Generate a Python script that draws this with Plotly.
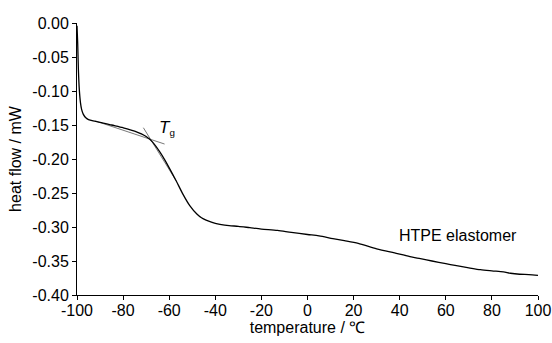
import plotly.graph_objects as go

# DSC curve of HTPE elastomer
temperature = [-100, -99.7, -99.4, -99.0, -98.5, -98.0, -97.3, -96.3, -95, -93, -90, -85, -80,
               -75, -70, -67, -64, -62, -60, -57, -54, -51, -48, -46, -44, -42, -40, -38, -34,
               -30, -25, -20, -13, -7, 0, 5, 11, 16, 22, 30, 39, 45, 49, 54, 60, 64, 70, 75, 80,
               85, 88, 92, 96, 100]
heat_flow = [-0.004, -0.03, -0.068, -0.098, -0.117, -0.127, -0.134, -0.139, -0.142, -0.144,
             -0.146, -0.150, -0.154, -0.159, -0.167, -0.176, -0.190, -0.201, -0.213, -0.232,
             -0.252, -0.269, -0.281, -0.2865, -0.290, -0.2925, -0.2945, -0.296, -0.298,
             -0.299, -0.301, -0.303, -0.305, -0.308, -0.311, -0.313, -0.317, -0.320, -0.324,
             -0.332, -0.339, -0.344, -0.3466, -0.350, -0.354, -0.3565, -0.360, -0.3628,
             -0.3645, -0.366, -0.368, -0.3695, -0.370, -0.371]

# Tangent construction lines for Tg
tangent1_x = [-92, -62]
tangent1_y = [-0.1441, -0.1780]
tangent2_x = [-71.2, -57]
tangent2_y = [-0.1540, -0.2320]

x_ticks = [-100, -80, -60, -40, -20, 0, 20, 40, 60, 80, 100]
x_tick_labels = ["-100", "-80", "-60", "-40", "-20", "0", "20", "40", "60", "80", "100"]
y_ticks = [0.00, -0.05, -0.10, -0.15, -0.20, -0.25, -0.30, -0.35, -0.40]
y_tick_labels = ["0.00", "-0.05", "-0.10", "-0.15", "-0.20", "-0.25", "-0.30", "-0.35", "-0.40"]

FONT = "Liberation Sans, Arial, sans-serif"

fig = go.Figure()
fig.add_trace(go.Scatter(x=tangent1_x, y=tangent1_y, mode="lines",
                         line=dict(color="#555555", width=0.8), showlegend=False))
fig.add_trace(go.Scatter(x=tangent2_x, y=tangent2_y, mode="lines",
                         line=dict(color="#555555", width=0.8), showlegend=False))
fig.add_trace(go.Scatter(x=temperature, y=heat_flow, mode="lines",
                         line=dict(color="black", width=1.3, shape="spline", smoothing=0.8),
                         showlegend=False))

fig.add_annotation(x=-61.0, y=-0.154, text="<i>T</i><span style='font-size:14px'><sub>g</sub></span>",
                   showarrow=False, font=dict(family=FONT, size=17, color="black"))
fig.add_annotation(x=65.4, y=-0.313, text="HTPE elastomer", showarrow=False,
                   font=dict(family=FONT, size=16, color="black"))

fig.update_layout(
    width=552, height=343,
    margin=dict(l=77, r=14, t=23, b=48, autoexpand=False),
    paper_bgcolor="white", plot_bgcolor="white",
    font=dict(family=FONT, size=16, color="black"),
    xaxis=dict(range=[-100, 100], tickvals=x_ticks, ticktext=x_tick_labels,
               ticks="outside", ticklen=4, ticklabelstandoff=-3, automargin=False,
               tickcolor="black", showline=True, linecolor="black", linewidth=1,
               showgrid=False, zeroline=False,
               title=dict(text="temperature / ℃", standoff=0, font=dict(size=16))),
    yaxis=dict(range=[-0.40, 0.0], tickvals=y_ticks, ticktext=y_tick_labels,
               ticks="outside", ticklen=4, tickcolor="black", showline=True,
               linecolor="black", linewidth=1, showgrid=False, zeroline=False,
               automargin=False,
               title=dict(text="heat flow / mW", standoff=6, font=dict(size=16))),
)

fig.write_html("out.html", config={"displayModeBar": False},
               post_script="document.body.style.margin='0';")
